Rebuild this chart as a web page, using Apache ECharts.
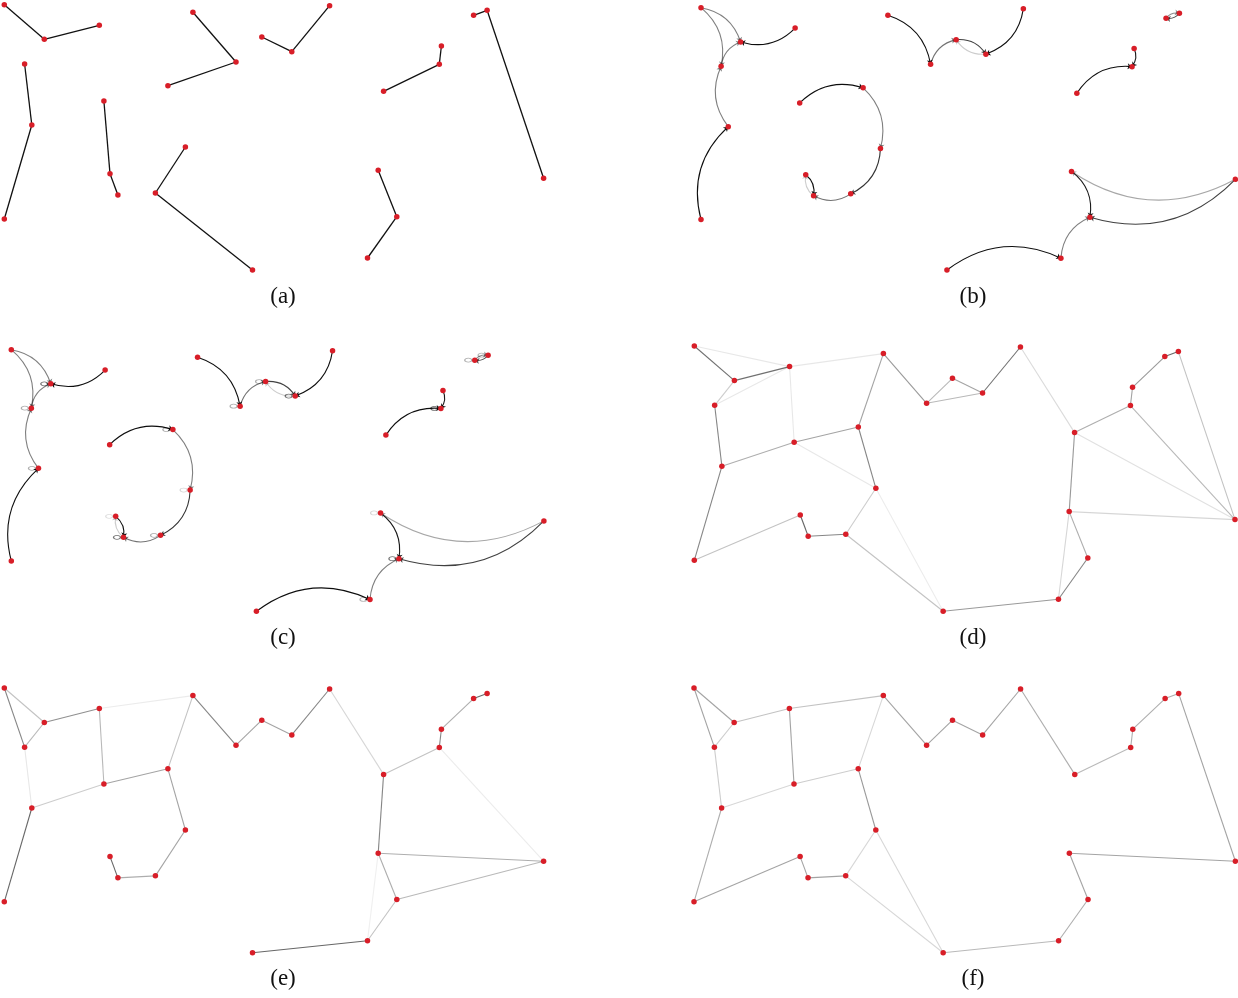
<!DOCTYPE html>
<html>
<head>
<meta charset="utf-8">
<script src="https://cdn.jsdelivr.net/npm/echarts@6/dist/echarts.min.js"></script>
<style>
  html, body { margin: 0; padding: 0; background: #fff; }
  #chart { width: 1238px; height: 998px; }
</style>
</head>
<body>
<div id="chart"></div>
<script>
// Shared node layout (27 nodes) used by every panel
const nodeX = [4.3, 44.3, 99.3, 24.6, 31.8, 4.3, 103.9, 110.0, 117.9, 192.9, 236.0, 167.9, 261.8, 291.8,
               329.6, 185.4, 155.4, 252.5, 441.4, 439.3, 383.6, 473.6, 487.1, 543.6, 378.2, 396.8, 367.5];
const nodeY = [4.7, 39.3, 25.3, 64.0, 125.0, 219.0, 101.0, 173.7, 195.0, 12.3, 62.0, 85.7, 37.0, 51.7,
               5.7, 147.0, 193.0, 270.0, 46.0, 64.3, 91.3, 15.3, 10.3, 178.3, 170.3, 216.7, 258.0];

// (a) undirected paths
const edgesA = [[0,1],[1,2],[3,4],[4,5],[6,7],[7,8],[9,10],[10,11],[12,13],[13,14],
                [15,16],[16,17],[18,19],[19,20],[21,22],[22,23],[24,25],[25,26]];

// (b),(c) directed edges: [from, to, weight]
const edgesB = [[0,1,0.5],[0,3,0.5],[2,1,0.95],[3,1,0.5],[4,3,0.5],[5,4,0.95],
                [9,10,0.95],[10,12,0.55],[12,13,0.75],[13,12,0.2],[14,13,0.95],
                [22,21,0.7],[21,22,0.45],[18,19,0.9],[20,19,0.95],
                [6,11,0.95],[11,15,0.5],[15,16,0.8],[16,8,0.55],[7,8,0.95],[8,7,0.2],
                [24,25,0.9],[23,24,0.35],[23,25,0.75],[26,25,0.5],[17,26,0.95]];

// (c) self-loops: [node, weight]
const loopsC = [[1,0.85],[3,0.5],[4,0.5],[10,0.5],[12,0.5],[13,0.85],[21,0.5],[22,0.45],[19,0.9],
                [11,0.5],[15,0.25],[16,0.5],[8,0.85],[7,0.2],[24,0.25],[25,0.85],[26,0.45]];

// (d),(e),(f) weighted undirected edges: [from, to, weight]
const edgesD = [[0,1,0.7],[0,2,0.12],[1,2,0.7],[1,3,0.25],[3,2,0.12],[2,9,0.12],[2,6,0.12],[3,4,0.6],
                [4,6,0.4],[6,11,0.45],[6,15,0.12],[11,9,0.45],[11,15,0.6],[9,10,0.5],[10,12,0.35],
                [10,13,0.35],[12,13,0.45],[13,14,0.7],[14,20,0.18],[4,5,0.6],[5,7,0.3],[7,8,0.75],
                [8,16,0.6],[16,15,0.25],[16,17,0.3],[15,17,0.1],[17,26,0.5],[26,25,0.6],[25,24,0.4],
                [26,24,0.2],[24,20,0.5],[24,23,0.2],[20,19,0.4],[20,23,0.15],[19,23,0.35],[19,18,0.45],
                [18,21,0.5],[21,22,0.75],[22,23,0.3]];
const edgesE = [[0,1,0.3],[0,3,0.6],[1,3,0.35],[1,2,0.55],[2,9,0.1],[2,6,0.35],[3,4,0.12],[4,6,0.25],
                [6,11,0.45],[11,9,0.3],[11,15,0.45],[15,16,0.45],[16,8,0.4],[8,7,0.75],[4,5,0.75],
                [9,10,0.6],[10,12,0.45],[12,13,0.45],[13,14,0.6],[14,20,0.2],[20,19,0.3],[19,18,0.6],
                [18,21,0.4],[21,22,0.75],[19,23,0.1],[20,24,0.6],[24,23,0.4],[24,25,0.4],[25,23,0.35],
                [24,26,0.08],[25,26,0.3],[26,17,0.75]];
const edgesF = [[0,1,0.45],[0,3,0.45],[1,3,0.25],[1,2,0.3],[2,9,0.3],[2,6,0.45],[3,4,0.25],[4,6,0.2],
                [6,11,0.25],[11,9,0.2],[11,15,0.5],[15,16,0.2],[15,17,0.2],[16,17,0.2],[16,8,0.45],
                [8,7,0.45],[7,5,0.45],[4,5,0.4],[9,10,0.45],[10,12,0.45],[12,13,0.45],[13,14,0.45],
                [14,20,0.4],[20,19,0.35],[19,18,0.4],[18,21,0.4],[21,22,0.4],[22,23,0.45],[23,24,0.45],
                [24,25,0.45],[25,26,0.4],[26,17,0.35]];

const panelLabels = ['(a)', '(b)', '(c)', '(d)', '(e)', '(f)'];

// Pixel box covered by the node extents in each panel: [left, top, width, height]
const panels = [
  { box: [4.3, 4.7, 539.3, 265.3],   edges: edgesA, kind: 'plain' },
  { box: [701, 7.7, 534.4, 262.3],   edges: edgesB, kind: 'directed' },
  { box: [11.3, 349.7, 532.6, 261.6], edges: edgesB, kind: 'directed', loops: loopsC },
  { box: [694.3, 346, 540.7, 265.3], edges: edgesD, kind: 'weighted' },
  { box: [4.3, 688, 539.3, 264.7],   edges: edgesE, kind: 'weighted' },
  { box: [694, 688, 541.4, 264.7],   edges: edgesF, kind: 'weighted' }
];
const labelPos = [[283, 297], [973, 297], [283, 638], [973, 638], [283, 979], [973, 979]];

const xMin = Math.min(...nodeX), xMax = Math.max(...nodeX);
const yMin = Math.min(...nodeY), yMax = Math.max(...nodeY);
const pt = i => [nodeX[i], nodeY[i]];
// weight -> grey level; undirected weighted edges are drawn a little lighter
const shade = (w, k) => 'rgba(0,0,0,' + (w * (k || 1)).toFixed(3) + ')';

const grid = [], xAxis = [], yAxis = [], series = [];
panels.forEach((p, i) => {
  grid.push({ left: p.box[0], top: p.box[1], width: p.box[2], height: p.box[3] });
  xAxis.push({ type: 'value', gridIndex: i, min: xMin, max: xMax, show: false });
  yAxis.push({ type: 'value', gridIndex: i, min: yMin, max: yMax, inverse: true, show: false });

  const k = p.kind === 'weighted' ? 0.8 : 1;
  const lineData = p.edges.map(e => {
    const item = { coords: [pt(e[0]), pt(e[1])] };
    if (p.kind !== 'plain') item.lineStyle = { color: shade(e[2], k) };
    return item;
  });
  series.push({
    type: 'lines',
    coordinateSystem: 'cartesian2d',
    xAxisIndex: i, yAxisIndex: i,
    clip: false,
    silent: true,
    symbol: p.kind === 'directed' ? ['none', 'arrow'] : 'none',
    symbolSize: 4.5,
    lineStyle: {
      color: '#111',
      width: p.kind === 'plain' ? 1.3 : 1.1,
      opacity: 1,
      curveness: p.kind === 'directed' ? 0.3 : 0
    },
    data: lineData,
    z: 2
  });

  if (p.loops) {
    series.push({
      type: 'scatter',
      xAxisIndex: i, yAxisIndex: i,
      clip: false,
      silent: true,
      symbol: 'path://M0,3a5,3 0 1,0 10,0a5,3 0 1,0 -10,0',
      symbolSize: [7, 4],
      symbolOffset: [-6.5, 0],
      data: p.loops.map(l => ({
        value: pt(l[0]),
        itemStyle: { color: 'none', borderColor: shade(l[1], 0.8), borderWidth: 1 }
      })),
      z: 3
    });
  }

  series.push({
    type: 'scatter',
    xAxisIndex: i, yAxisIndex: i,
    clip: false,
    silent: true,
    symbol: 'circle',
    symbolSize: 5.5,
    itemStyle: { color: '#d81e28', opacity: 1 },
    data: nodeX.map((x, k) => pt(k)),
    z: 4
  });
});

const chart = echarts.init(document.getElementById('chart'), null, { renderer: 'canvas' });
chart.setOption({
  animation: false,
  backgroundColor: '#fff',
  grid, xAxis, yAxis, series,
  graphic: panelLabels.map((t, i) => ({
    type: 'text',
    x: labelPos[i][0],
    y: labelPos[i][1],
    style: {
      text: t,
      fill: '#111',
      font: '23px "Liberation Serif", "DejaVu Serif", serif',
      textAlign: 'center',
      textVerticalAlign: 'middle'
    }
  }))
});
</script>
</body>
</html>
